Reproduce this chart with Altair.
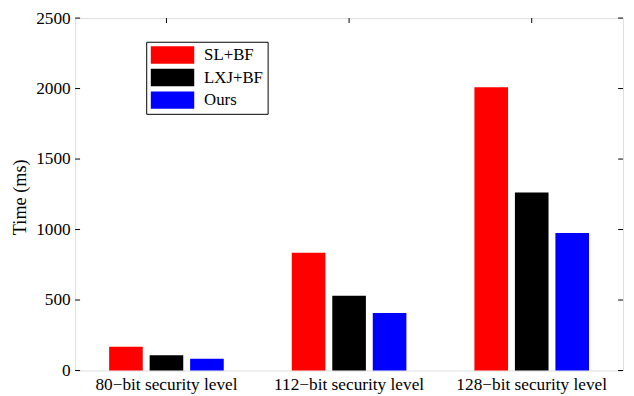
import altair as alt
import pandas as pd

levels = ["80−bit security level", "112−bit security level", "128−bit security level"]
series = ["SL+BF", "LXJ+BF", "Ours"]
sl_bf = [169, 836, 2010]
lxj_bf = [109, 531, 1262]
ours = [83, 408, 975]
y_ticks = [0, 500, 1000, 1500, 2000, 2500]
colors = ["#ff0000", "#000000", "#0000ff"]

rows = []
for s, vals in zip(series, [sl_bf, lxj_bf, ours]):
    for lv, v in zip(levels, vals):
        rows.append({"level": lv, "method": s, "time": v})
df = pd.DataFrame(rows)
yt = pd.DataFrame({"t": y_ticks})
xt = pd.DataFrame({"level": levels})

W, H = 555, 357
FONT = "Liberation Serif"

x_scale = alt.Scale(domain=levels, paddingInner=0, paddingOuter=0)
y_scale = alt.Scale(domain=[0, 2500], nice=False)

bars = alt.Chart(df).mark_bar().encode(
    x=alt.X("level:N", sort=levels, scale=x_scale,
            axis=alt.Axis(title=None, labelAngle=0, tickSize=0, domain=False,
                          labelPadding=5, labelFontSize=17.5, labelFont=FONT,
                          labelColor="black", grid=False)),
    xOffset=alt.XOffset("method:N", sort=series,
                        scale=alt.Scale(paddingInner=0.17, paddingOuter=0.84)),
    y=alt.Y("time:Q", scale=y_scale,
            axis=alt.Axis(title="Time (ms)", values=y_ticks, format="d", tickSize=0,
                          domain=False, grid=False, labelPadding=5, labelFontSize=17.5,
                          labelFont=FONT, labelColor="black", titleFont=FONT,
                          titleFontSize=18.5, titleFontWeight="normal", titleColor="black",
                          titleX=-50, titleY=181, titleBaseline="alphabetic")),
    color=alt.Color("method:N", sort=series,
                    scale=alt.Scale(domain=series, range=colors),
                    legend=alt.Legend(title=None, orient="none", legendX=72, legendY=24,
                                      direction="vertical", fillColor="white",
                                      strokeColor="black", padding=4.5,
                                      symbolType="M-2.486,-1L2.486,-1L2.486,1L-2.486,1Z",
                                      symbolSize=313, symbolOffset=13.15, labelOffset=23,
                                      rowPadding=4.8, labelFont=FONT, labelFontSize=17,
                                      labelColor="black", symbolStrokeWidth=0,
                                      symbolOpacity=1)),
)

left_ticks = alt.Chart(yt).mark_rule(color="black", strokeWidth=1).encode(
    y=alt.Y("t:Q", scale=y_scale), x=alt.value(0), x2=alt.value(5))
right_ticks = alt.Chart(yt).mark_rule(color="black", strokeWidth=1).encode(
    y=alt.Y("t:Q", scale=y_scale), x=alt.value(W - 5), x2=alt.value(W))
top_ticks = alt.Chart(xt).mark_rule(color="black", strokeWidth=1).encode(
    x=alt.X("level:N", sort=levels, scale=x_scale), y=alt.value(0), y2=alt.value(5))

chart = alt.layer(bars, left_ticks, right_ticks, top_ticks).properties(
    width=W, height=H,
    autosize=alt.AutoSizeParams(type="none"),
    padding={"left": 68, "top": 7.7, "right": 3, "bottom": 23},
).configure_view(stroke="black", strokeWidth=1).configure(background="white")

chart.save("out.html", embed_options={"renderer": "svg", "actions": False})
